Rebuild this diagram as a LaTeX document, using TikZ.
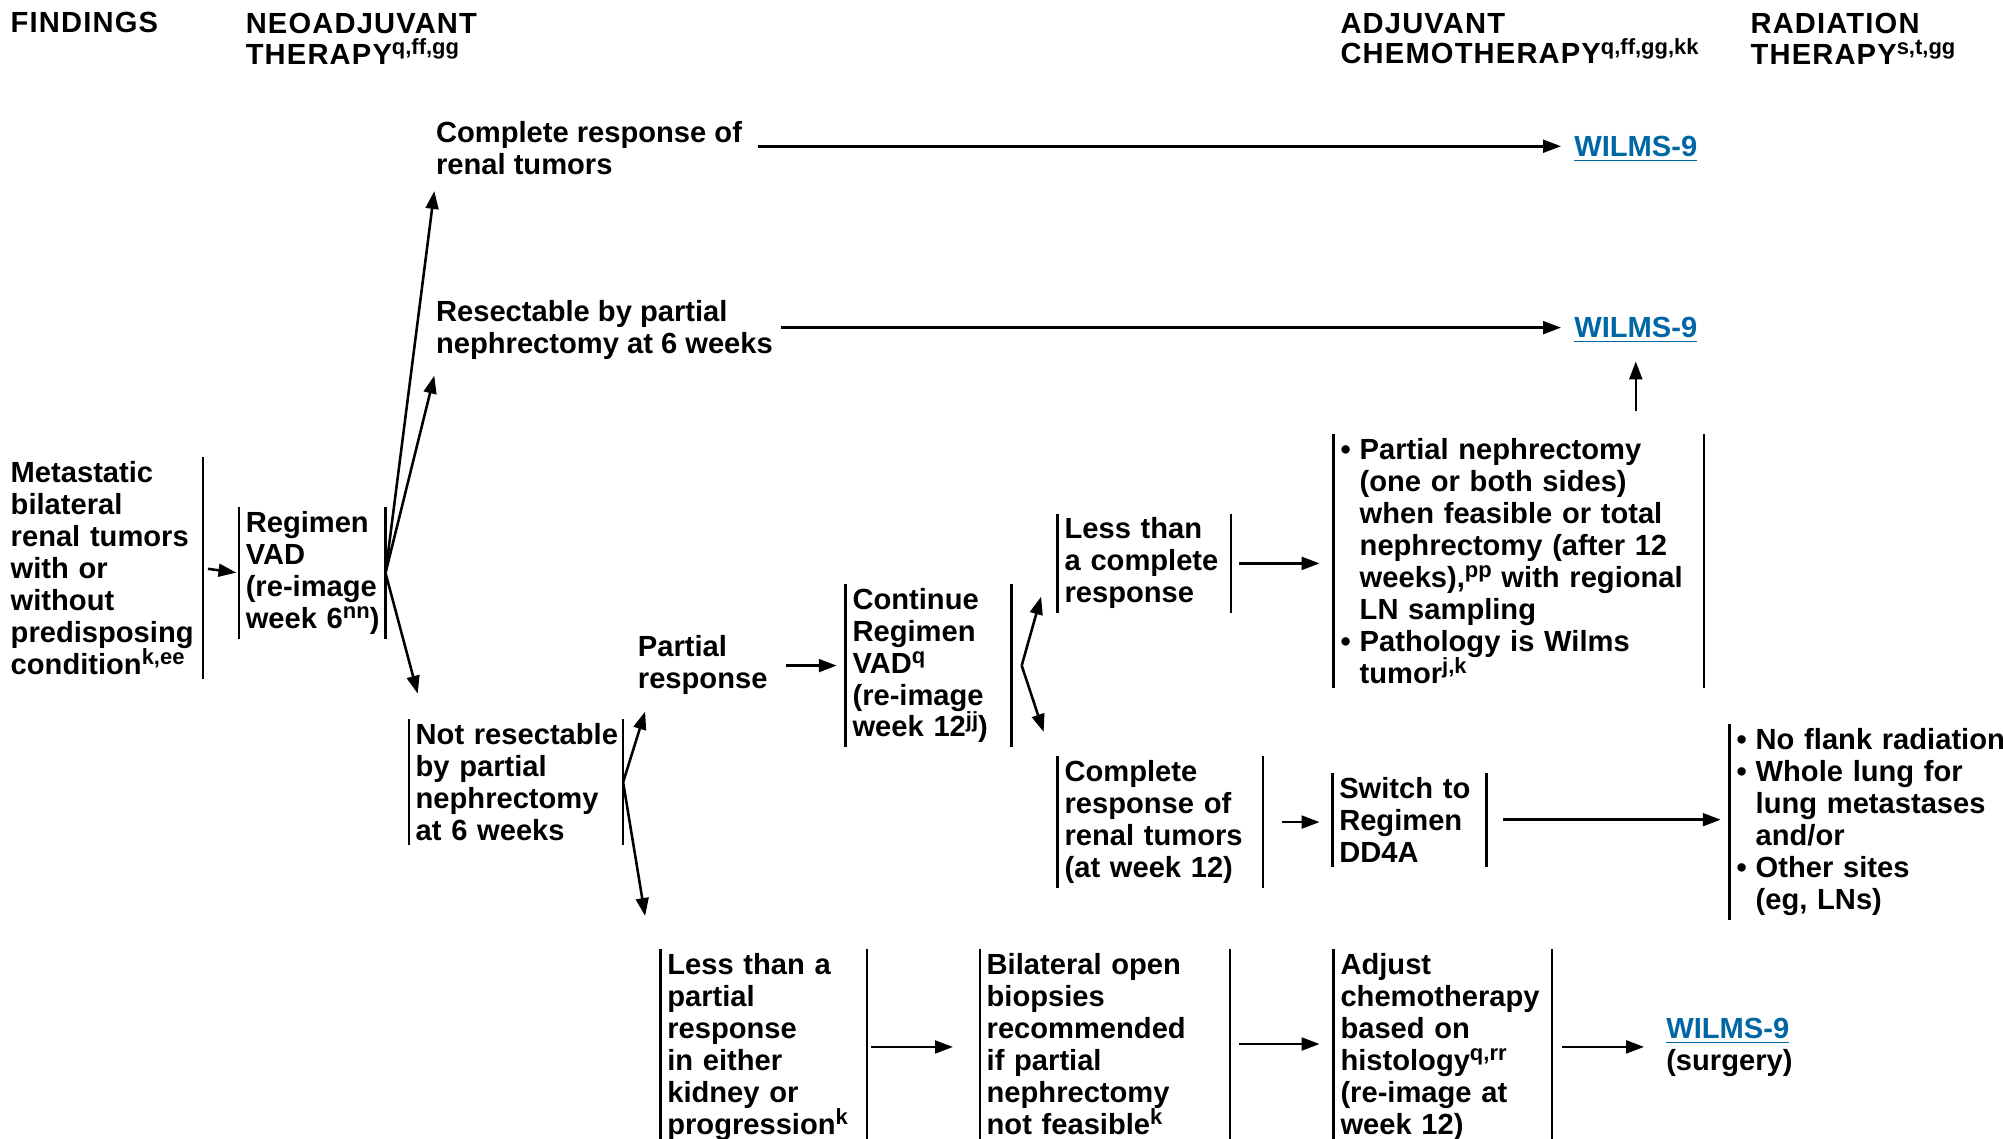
\documentclass[tikz,border=0pt]{standalone}
\usepackage{fontspec}
\setmainfont{Liberation Sans}
\usetikzlibrary{arrows.meta}
\definecolor{linkblue}{RGB}{0,103,165}
\hyphenpenalty=10000
\exhyphenpenalty=10000
\newcommand\mybul{\makebox[7.5pt][l]{\textbullet}}
\newcommand\myind{\hspace*{7.5pt}}
\newcommand\wilmslink{\textcolor{linkblue}{\underline{WILMS-9}}}
% footnote markers
\newcommand\fnm[1]{\raisebox{3.8pt}{\fontsize{8.6}{9}\selectfont\addfontfeatures{LetterSpace=0}#1}}
\tikzset{
  bar/.style={draw, line width=1pt, -},
  arr/.style={draw, line width=1pt, -{Triangle[length=7pt,width=5pt]}},
  body/.style={font=\fontsize{11.4}{12.5}\selectfont\bfseries, align=left,
    inner sep=0pt, anchor=north west},
  head/.style={font=\fontsize{11.4}{12}\selectfont\bfseries\addfontfeatures{LetterSpace=4},
    align=left, inner sep=0pt, anchor=north west},
  boxed/.style={body, inner xsep=2.5pt, inner ysep=1.5pt, text width=#1},
  twobars/.style={boxed=#1, append after command={
      (\tikzlastnode.north west) edge[bar] (\tikzlastnode.south west)
      (\tikzlastnode.north east) edge[bar] (\tikzlastnode.south east)}},
  rightbar/.style={boxed=#1, append after command={
      (\tikzlastnode.north east) edge[bar] (\tikzlastnode.south east)}},
  leftbar/.style={boxed=#1, append after command={
      (\tikzlastnode.north west) edge[bar] (\tikzlastnode.south west)}},
}
\begin{document}
\begin{tikzpicture}[x=0.5pt, y=-0.5pt]
\useasboundingbox (0,0) rectangle (1568,891);

% column headings
\node[head] (hfind) at (8,9) {FINDINGS};
\node[head] (hneo) at (192,10) {NEOADJUVANT\\THERAPY\fnm{q,ff,gg}};
\node[head] (hadj) at (1049,10) {ADJUVANT\\CHEMOTHERAPY\fnm{q,ff,gg,kk}};
\node[head] (hrad) at (1370,10) {RADIATION\\THERAPY\fnm{s,t,gg}};

% findings and first treatment
\node[rightbar=72.5pt] (find) at (3,358) {Metastatic\\bilateral\\renal~tumors\\with~or\\without\\predisposing\\condition\fnm{k,ee}};
\node[twobars=52pt] (vad) at (187,397) {Regimen\\VAD\\(re-image\\week~6\fnm{nn})};

% outcomes at 6 weeks
\node[body] (cr1) at (341,95) {Complete~response~of\\renal~tumors};
\node[body] (rs) at (341,235) {Resectable~by~partial\\nephrectomy~at~6~weeks};
\node[twobars=78.5pt] (nr) at (320,563) {Not~resectable\\by~partial\\nephrectomy\\at~6~weeks};

\node[body] (w1) at (1232,106) {\wilmslink};
\node[body] (w2) at (1232,248) {\wilmslink};

% partial response branch
\node[body] (pr) at (499,497) {Partial\\response};
\node[twobars=59.5pt] (cont) at (662,457) {Continue\\Regimen\\VAD\fnm{q}\\(re-image\\week~12\fnm{jj})};
\node[twobars=62.5pt] (ltc) at (828,402) {Less~than\\a~complete\\response};
\node[twobars=75pt] (crw) at (828,592) {Complete\\response~of\\renal~tumors\\(at~week~12)};
\node[twobars=139.5pt] (pn) at (1044,340) {\mybul Partial~nephrectomy\\\myind(one~or~both~sides)\\\myind when~feasible~or~total\\\myind nephrectomy~(after~12\\\myind weeks),\fnm{pp}~with~regional\\\myind LN~sampling\\\mybul Pathology~is~Wilms\\\myind tumor\fnm{j,k}};
\node[twobars=55pt] (sw) at (1043,605) {Switch~to\\Regimen\\DD4A};
\node[leftbar=104pt] (rad) at (1354,567) {\mybul No~flank~radiation\\\mybul Whole~lung~for\\\myind lung~metastases\\\myind and/or\\\mybul Other~sites\\\myind(eg,~LNs)};

% less than partial response branch
\node[twobars=75.5pt] (ltp) at (517,743) {Less~than~a\\partial\\response\\in~either\\kidney~or\\progression\fnm{k}};
\node[twobars=92.5pt] (bob) at (767,743) {Bilateral~open\\biopsies\\recommended\\if~partial\\nephrectomy\\not~feasible\fnm{k}};
\node[twobars=80pt] (adj) at (1044,743) {Adjust\\chemotherapy\\based~on\\histology\fnm{q,rr}\\(re-image~at\\week~12)};
\node[body] (w3) at (1304,797) {\wilmslink\\(surgery)};

% connectors
\draw[arr, shorten <=2pt, shorten >=1pt] (find.east) -- (vad.west);
\draw[arr] (vad.east) -- ([shift={(-1,12)}]cr1.south west);
\draw[arr] (vad.east) -- ([shift={(-1,12)}]rs.south west);
\draw[arr] (vad.east) -- ([shift={(7,-20)}]nr.north west);
\draw[arr, shorten <=6pt, shorten >=5pt] ([yshift=1pt]cr1.east |- w1.west) -- ([yshift=1pt]w1.west);
\draw[arr, shorten <=3pt, shorten >=5pt] ([yshift=1pt]rs.east |- w2.west) -- ([yshift=1pt]w2.west);
\draw[arr] (nr.east) -- ([shift={(6,13)}]pr.south west);
\draw[arr] (nr.east) -- ([shift={(-12,-26)}]ltp.north west);
\draw[arr, shorten <=7pt, shorten >=3.5pt] (pr.east |- cont.west) -- (cont.west);
\draw[arr] ([shift={(8,0)}]cont.east) -- ([shift={(-13,-13)}]ltc.south west);
\draw[arr] ([shift={(8,0)}]cont.east) -- ([shift={(-11,-19)}]crw.north west);
\draw[arr, shorten <=3pt, shorten >=5.5pt] (ltc.east) -- (ltc.east -| pn.west);
\draw[arr, shorten <=9pt, shorten >=7pt] (w2.south |- pn.north) -- (w2.south);
\draw[arr, shorten <=7.5pt, shorten >=5pt] (crw.east) -- (crw.east -| sw.west);
\draw[arr, shorten <=6.5pt, shorten >=3.5pt] (sw.east) -- (sw.east -| rad.west);
\draw[arr, shorten <=1.5pt, shorten >=10.5pt] (ltp.east) -- (ltp.east -| bob.west);
\draw[arr, shorten <=3.5pt, shorten >=5.5pt] (bob.east) -- (bob.east -| adj.west);
\draw[arr, shorten <=4pt, shorten >=8.5pt] (adj.east) -- (adj.east -| w3.west);
\end{tikzpicture}
\end{document}
